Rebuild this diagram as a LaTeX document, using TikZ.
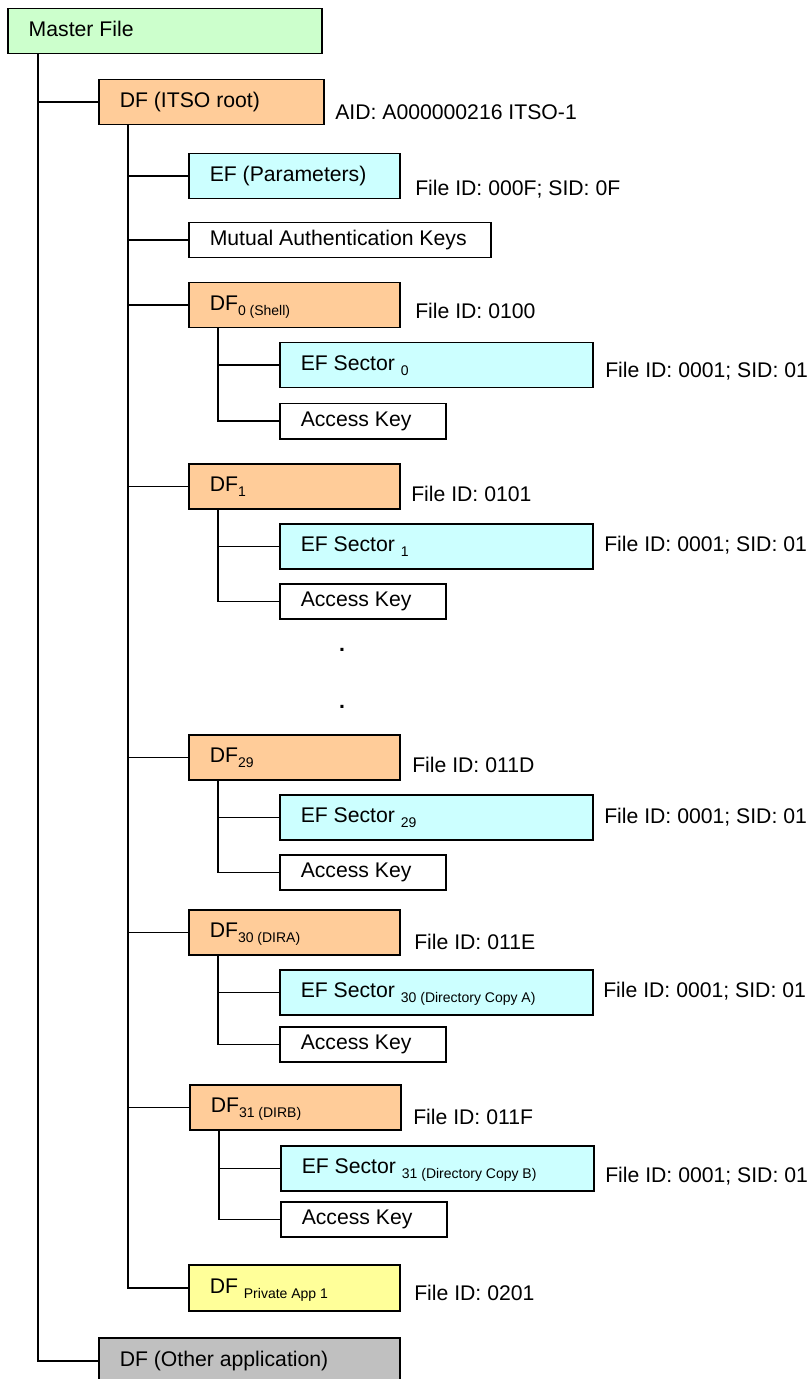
\documentclass[tikz,border=0pt]{standalone}
\usepackage{fontspec}
\setmainfont{Liberation Sans}
\usetikzlibrary{positioning}
\definecolor{mfgreen}{HTML}{CCFFCC}
\definecolor{dforange}{HTML}{FFCC99}
\definecolor{efcyan}{HTML}{CCFFFF}
\definecolor{appyellow}{HTML}{FFFF99}
\definecolor{othergray}{HTML}{C0C0C0}
\newcommand{\lowsub}[1]{\raisebox{-2.5pt}{\fontsize{7}{8}\selectfont\spaceskip=0pt\xspaceskip=0pt #1}}

\begin{document}
\begin{tikzpicture}[x=0.5pt,y=-0.5pt,line width=0.75pt,font=\fontsize{10.6}{12.7}\selectfont,
	filebox/.style={draw,anchor=north west,inner xsep=10.5pt,inner ysep=0pt,align=left,text height=8pt,text depth=2.5pt,minimum height=22.5pt,
		execute at begin node={\spaceskip=0pt\xspaceskip=0pt}},
	dfbox/.style={filebox,fill=dforange,text width=84.5pt},
	efbox/.style={filebox,fill=efcyan,text width=135.5pt},
	keybox/.style={filebox,text width=62pt,minimum height=17.5pt},
	fileid/.style={inner sep=0pt,anchor=west},
	dotmark/.style={inner sep=0pt,font=\fontsize{10.6}{12.7}\selectfont\bfseries},
	branch/.style={to path={|- (\tikztotarget.west)}}]
	\clip (0,0) rectangle (807,1379);

	\node[filebox,fill=mfgreen,text width=136pt]		(master)	at (7,8)		{Master File};
	\node[filebox,fill=dforange,text width=91.5pt]		(itso)		at (98,79)		{DF (ITSO root)};
	\node[filebox,fill=efcyan,text width=84.5pt]		(efpar)		at (188,153)	{EF (Parameters)};
	\node[keybox,text width=130pt]					(mutual)	at (188,222)	{Mutual Authentication Keys};
	\node[dfbox]								(df0)		at (188,282)	{DF\lowsub{0 (Shell)}};
	\node[efbox]								(ef0)		at (279,342)	{EF Sector \lowsub{0}};
	\node[keybox]								(ak0)		at (279,403)	{Access Key};
	\node[dfbox]								(df1)		at (188,463)	{DF\lowsub{1}};
	\node[efbox]								(ef1)		at (279,523)	{EF Sector \lowsub{1}};
	\node[keybox]								(ak1)		at (279,583)	{Access Key};
	\node[dotmark]								(dotA)		at (342,650)	{.};
	\node[dotmark]								(dotB)		at (342,707)	{.};
	\node[dfbox]								(df29)		at (188,734)	{DF\lowsub{29}};
	\node[efbox]								(ef29)		at (279,794)	{EF Sector \lowsub{29}};
	\node[keybox]								(ak29)		at (279,854)	{Access Key};
	\node[dfbox]								(df30)		at (188,909)	{DF\lowsub{30 (DIRA)}};
	\node[efbox]								(ef30)		at (279,969)	{EF Sector \lowsub{30 (Directory Copy A)}};
	\node[keybox]								(ak30)		at (279,1026)	{Access Key};
	\node[dfbox]								(df31)		at (189,1084)	{DF\lowsub{31 (DIRB)}};
	\node[efbox]								(ef31)		at (280,1145)	{EF Sector \lowsub{31 (Directory Copy B)}};
	\node[keybox]								(ak31)		at (280,1201)	{Access Key};
	\node[filebox,fill=appyellow,text width=84.5pt,minimum height=23pt]	(private)	at (188,1264)	{DF \lowsub{Private App 1}};
	\node[filebox,fill=othergray,text width=129.5pt,minimum height=23pt]	(other)	at (98,1337)	{DF (Other application)};

	\node[fileid]	(itsoid)	[right=5pt of itso,yshift=-5pt]		{AID: A000000216 ITSO-1};
	\node[fileid]	(efparid)	[right=7pt of efpar,yshift=-6.5pt]	{File ID: 000F; SID: 0F};
	\node[fileid]	(df0id)		[right=7pt of df0,yshift=-2.75pt]	{File ID: 0100};
	\node[fileid]	(ef0id)		[right=5.5pt of ef0,yshift=-3pt]	{File ID: 0001; SID: 01};
	\node[fileid]	(df1id)		[right=5pt of df1,yshift=-3.75pt]	{File ID: 0101};
	\node[fileid]	(ef1id)		[right=5pt of ef1,yshift=0.5pt]		{File ID: 0001; SID: 01};
	\node[fileid]	(df29id)	[right=5.5pt of df29,yshift=-3.75pt]	{File ID: 011D};
	\node[fileid]	(ef29id)	[right=5pt of ef29]				{File ID: 0001; SID: 01};
	\node[fileid]	(df30id)	[right=6.5pt of df30,yshift=-5pt]	{File ID: 011E};
	\node[fileid]	(ef30id)	[right=4.5pt of ef30,yshift=0.5pt]	{File ID: 0001; SID: 01};
	\node[fileid]	(df31id)	[right=5.5pt of df31,yshift=-5pt]	{File ID: 011F};
	\node[fileid]	(ef31id)	[right=5pt of ef31,yshift=-4pt]		{File ID: 0001; SID: 01};
	\node[fileid]	(privateid)	[right=6.5pt of private,yshift=-2.75pt]	{File ID: 0201};

	\coordinate (mtrunk)	at ([xshift=15.5pt]master.south west);
	\coordinate (itrunk)	at ([xshift=15pt]itso.south west);
	\coordinate (trunk0)	at ([xshift=15pt]df0.south west);
	\coordinate (trunk1)	at ([xshift=15pt]df1.south west);
	\coordinate (trunk29)	at ([xshift=15pt]df29.south west);
	\coordinate (trunk30)	at ([xshift=15pt]df30.south west);
	\coordinate (trunk31)	at ([xshift=15pt]df31.south west);

	\path	(mtrunk)	edge[branch]	(itso)
					edge[branch]	(other)
		(itrunk)	edge[branch]	(efpar)
					edge[branch]	(mutual)
					edge[branch]	(df0)
					edge[branch]	(df1)
					edge[branch]	(df29)
					edge[branch]	(df30)
					edge[branch]	(df31)
					edge[branch]	(private)
		(trunk0)	edge[branch]	(ef0)
					edge[branch]	(ak0)
		(trunk1)	edge[branch]	(ef1)
					edge[branch]	(ak1)
		(trunk29)	edge[branch]	(ef29)
					edge[branch]	(ak29)
		(trunk30)	edge[branch]	(ef30)
					edge[branch]	(ak30)
		(trunk31)	edge[branch]	(ef31)
					edge[branch]	(ak31);
\end{tikzpicture}
\end{document}
